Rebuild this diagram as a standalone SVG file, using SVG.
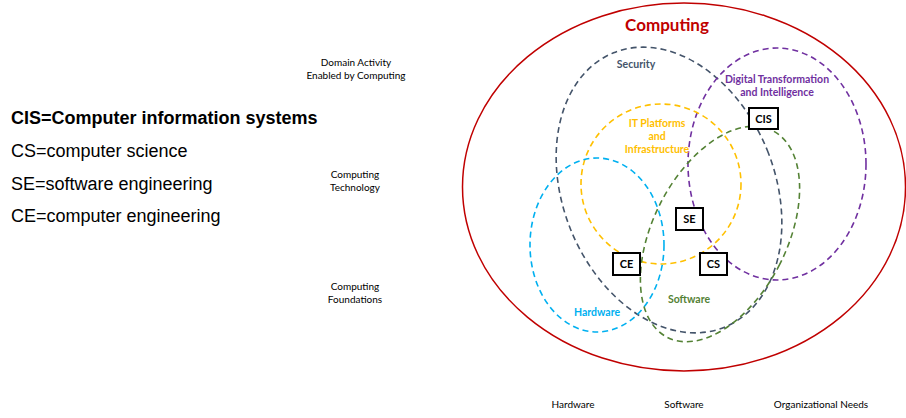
<svg xmlns="http://www.w3.org/2000/svg" width="906" height="418" viewBox="0 0 906 418">
<style>
.lbl{font-family:Lato,"Liberation Sans",sans-serif;font-size:10px;fill:#000;text-anchor:middle}
.leg{font-family:"Liberation Sans",Arial,sans-serif;font-size:18px;fill:#000}
.set{fill:none;stroke-width:1.6;stroke-dasharray:6 4}
.sl{font-family:Lato,"Liberation Sans",sans-serif;font-size:10.5px;font-weight:bold;text-anchor:middle}
.box rect{fill:#fff;stroke:#000;stroke-width:2}
.box text{font-family:Lato,"Liberation Sans",sans-serif;font-size:11px;font-weight:bold;fill:#000;text-anchor:middle}
</style>
<rect width="906" height="418" fill="#fff"/>
<g id="legend">
<text class="leg" x="11" y="124" font-weight="bold">CIS=Computer information systems</text>
<text class="leg" x="11" y="157">CS=computer science</text>
<text class="leg" x="11" y="190">SE=software engineering</text>
<text class="leg" x="11" y="222">CE=computer engineering</text>
</g>
<g id="axis-labels">
<text class="lbl" x="356" y="66">Domain Activity</text>
<text class="lbl" x="356" y="79">Enabled by Computing</text>
<text class="lbl" x="355" y="178">Computing</text>
<text class="lbl" x="355" y="191">Technology</text>
<text class="lbl" x="355" y="290">Computing</text>
<text class="lbl" x="355" y="303">Foundations</text>
<text class="lbl" x="573" y="408">Hardware</text>
<text class="lbl" x="684" y="408">Software</text>
<text class="lbl" x="821" y="408">Organizational Needs</text>
</g>
<g id="computing">
<ellipse cx="684" cy="187" rx="221.5" ry="184" fill="none" stroke="#c00000" stroke-width="1.5"/>
<text x="667" y="31" font-family="Lato,'Liberation Sans',sans-serif" font-size="17" font-weight="bold" fill="#c00000" text-anchor="middle">Computing</text>
</g>
<g id="security">
<ellipse class="set" cx="669" cy="190" rx="106" ry="148" transform="rotate(-22 669 190)" stroke="#44546a"/>
<text class="sl" x="636" y="68" fill="#44546a">Security</text>
</g>
<g id="digital">
<ellipse class="set" cx="777" cy="164" rx="89" ry="116" stroke="#7030a0"/>
<text class="sl" x="777" y="83" fill="#7030a0">Digital Transformation</text>
<text class="sl" x="777" y="96" fill="#7030a0">and Intelligence</text>
</g>
<g id="it-platforms">
<ellipse class="set" cx="661" cy="184" rx="80" ry="80" stroke="#ffc000"/>
<text class="sl" x="657" y="127" fill="#ffc000">IT Platforms</text>
<text class="sl" x="657" y="140" fill="#ffc000">and</text>
<text class="sl" x="657" y="153" fill="#ffc000">Infrastructure</text>
</g>
<g id="hardware">
<ellipse class="set" cx="597" cy="245" rx="67" ry="87" stroke="#00b0f0"/>
<text class="sl" x="597" y="316" fill="#00b0f0">Hardware</text>
</g>
<g id="software">
<ellipse class="set" cx="720" cy="234" rx="67" ry="116" transform="rotate(27 720 234)" stroke="#548235"/>
<text class="sl" x="689" y="303" fill="#548235">Software</text>
</g>
<g id="connectors"></g>
<g id="CIS" class="box"><rect x="749" y="108" width="29" height="21"/><text x="763.5" y="122.5">CIS</text></g>
<g id="SE" class="box"><rect x="676" y="208" width="27" height="22"/><text x="689.5" y="223">SE</text></g>
<g id="CE" class="box"><rect x="613" y="253" width="27" height="22"/><text x="626.5" y="268">CE</text></g>
<g id="CS" class="box"><rect x="700" y="253" width="27" height="22"/><text x="713.5" y="268">CS</text></g>
</svg>
